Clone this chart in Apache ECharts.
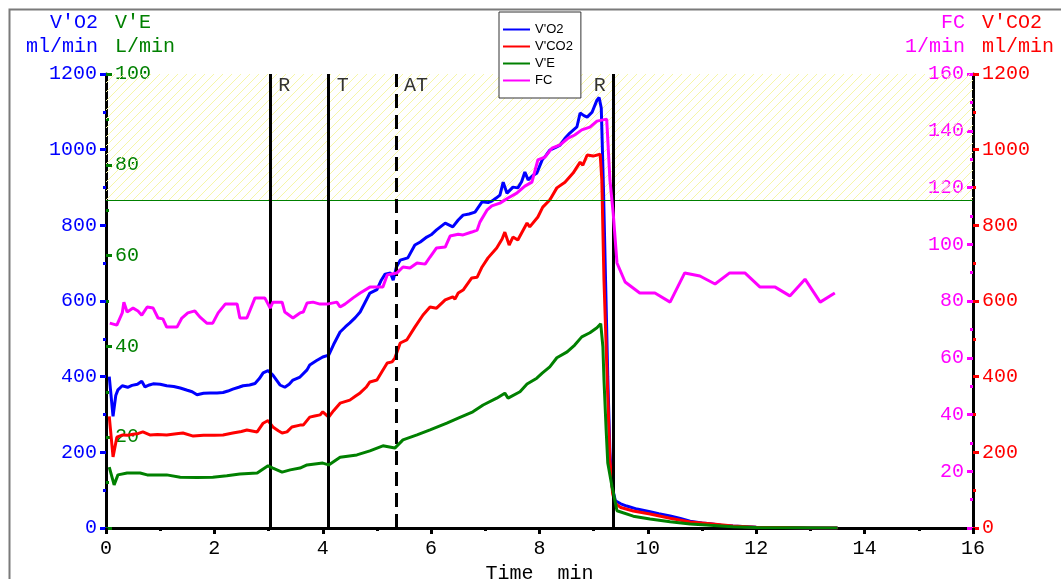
<!DOCTYPE html>
<html>
<head>
<meta charset="utf-8">
<script src="https://cdn.jsdelivr.net/npm/echarts@6/dist/echarts.min.js"></script>
<style>
html,body{margin:0;padding:0;background:#fff;overflow:hidden;}
#chart{width:1061px;height:579px;}
</style>
</head>
<body>
<div id="chart"></div>
<script>
// ---------- data ----------
const vo2T = [0.06,0.13,0.18,0.22,0.3,0.4,0.48,0.58,0.66,0.72,0.8,0.87,1.0,1.12,1.25,1.37,1.5,1.59,1.68,1.8,1.92,2.05,2.16,2.25,2.34,2.45,2.53,2.65,2.75,2.83,2.9,2.99,3.08,3.15,3.21,3.3,3.38,3.45,3.58,3.71,3.76,3.88,4.0,4.11,4.2,4.32,4.42,4.5,4.6,4.69,4.78,4.87,5.0,5.08,5.15,5.25,5.3,5.36,5.43,5.57,5.7,5.8,5.92,6.0,6.1,6.26,6.4,6.5,6.59,6.7,6.81,6.94,7.05,7.12,7.2,7.27,7.33,7.4,7.51,7.6,7.67,7.73,7.79,7.88,7.95,8.05,8.12,8.19,8.3,8.38,8.47,8.56,8.69,8.75,8.82,8.88,8.97,9.06,9.1,9.14,9.18,9.22,9.26,9.3,9.34,9.4,9.5,9.61,9.8,10.04,10.2,10.41,10.6,10.78,11.0,11.15,11.35,11.57,12.0,12.5,13.0,13.5];
const vo2 = [400,295,350,365,376,372,377,380,388,373,378,381,380,376,374,370,364,360,352,356,357,357,358,362,367,372,376,378,382,395,410,416,404,390,378,372,380,391,399,418,431,442,452,457,485,518,532,542,556,571,596,621,630,655,671,674,655,690,708,714,748,756,769,775,788,806,796,814,827,830,835,862,860,864,872,880,914,885,901,899,915,941,920,932,938,973,985,999,1006,1012,1030,1044,1060,1097,1090,1086,1099,1131,1138,1110,900,650,400,200,110,72,64,58,50,43,38,32,25,18,13,11,7,5,2,1,0,0];

const vco2T = [0.06,0.13,0.2,0.31,0.4,0.5,0.6,0.68,0.81,0.95,1.12,1.3,1.42,1.61,1.8,2.0,2.16,2.34,2.5,2.6,2.79,2.9,2.99,3.08,3.18,3.25,3.34,3.43,3.58,3.64,3.76,3.85,3.95,4.0,4.11,4.2,4.32,4.5,4.6,4.69,4.8,4.87,5.0,5.1,5.19,5.28,5.33,5.43,5.55,5.7,5.85,5.98,6.1,6.26,6.4,6.44,6.5,6.59,6.75,6.85,6.94,7.05,7.21,7.31,7.36,7.44,7.51,7.6,7.77,7.82,7.97,8.06,8.19,8.32,8.47,8.62,8.75,8.8,8.88,8.99,9.12,9.15,9.19,9.25,9.3,9.35,9.4,9.5,9.73,10.04,10.41,10.78,11.15,11.57,12.0,12.5,13.0,13.5];
const vco2 = [295,188,240,246,245,248,250,254,246,247,246,249,251,243,245,245,246,251,255,259,254,277,284,267,257,251,254,267,272,272,293,296,299,307,293,310,330,338,348,357,372,386,391,415,436,439,449,489,497,531,563,584,581,603,611,605,621,629,661,663,690,714,740,764,782,748,769,761,806,796,822,848,867,899,914,938,967,959,986,983,988,920,655,391,180,90,65,54,45,37,26,16,11,5,2,1,0,0];

const veT = [0.06,0.15,0.22,0.39,0.63,0.76,1.12,1.37,1.68,1.97,2.23,2.47,2.79,2.9,2.99,3.08,3.25,3.4,3.58,3.71,4.0,4.11,4.32,4.63,4.87,5.11,5.33,5.48,5.74,5.98,6.29,6.5,6.77,6.96,7.21,7.36,7.42,7.64,7.77,7.95,8.05,8.19,8.32,8.51,8.65,8.78,8.93,9.06,9.13,9.17,9.19,9.23,9.26,9.34,9.39,9.43,9.73,10.04,10.41,10.78,11.15,11.57,12.0,13.5];
const ve = [13.4,9.5,11.7,12.1,12.1,11.7,11.7,11.2,11.1,11.2,11.5,11.9,12.1,13.0,13.7,13.2,12.3,12.8,13.2,13.9,14.3,13.9,15.6,16.1,17.0,18.1,17.6,19.4,20.5,21.6,23.1,24.2,25.6,27.1,28.6,29.7,28.6,30.0,31.7,33.0,34.1,35.5,37.5,38.8,40.3,42.1,43.0,44.1,45.0,39.9,32.6,21.6,14.3,9.0,6.2,3.8,2.6,2.0,1.4,0.9,0.6,0.3,0.1,0.0];

const fcT = [0.07,0.2,0.3,0.33,0.39,0.5,0.59,0.66,0.76,0.87,0.96,1.05,1.12,1.31,1.4,1.51,1.64,1.73,1.86,1.97,2.07,2.2,2.42,2.47,2.6,2.75,2.93,3.03,3.08,3.25,3.3,3.45,3.58,3.64,3.71,3.82,3.95,4.08,4.26,4.32,4.41,4.56,4.69,4.87,5.11,5.19,5.37,5.48,5.61,5.74,5.89,5.98,6.1,6.26,6.35,6.5,6.59,6.75,6.85,6.9,7.03,7.12,7.27,7.42,7.58,7.73,7.86,7.97,8.1,8.23,8.38,8.53,8.65,8.78,8.93,9.06,9.24,9.3,9.36,9.43,9.58,9.85,10.13,10.41,10.68,10.96,11.24,11.51,11.79,12.07,12.35,12.62,12.9,13.18,13.45];
const fc = [72.2,71.5,75.8,79.6,76.1,77.5,76.5,75.0,77.9,77.5,74.0,73.7,70.8,70.8,74.0,75.8,76.5,74.4,72.2,72.2,75.8,78.9,78.9,74.0,74.0,81.1,81.1,77.5,79.6,79.6,76.1,74.0,75.8,76.1,79.3,79.6,78.9,78.9,79.6,77.9,78.9,81.1,82.8,84.9,84.9,89.2,89.9,92.0,91.6,93.4,93.0,95.5,98.7,99.0,102.9,103.5,103.3,104.3,105.0,107.8,112.0,113.5,114.5,116.3,118.0,120.5,121.9,129.7,130.7,133.9,135.0,137.4,138.5,140.3,141.3,143.4,144.1,122.6,111.0,93.4,86.7,82.8,82.8,79.6,89.9,88.8,86.0,89.9,89.9,84.9,84.9,81.8,87.7,79.6,82.8];

const eventTimes = [3.03, 4.11, 5.35, 9.37];
const eventLabels = ['R', 'T', 'AT', 'R'];
const refLevelVO2 = 867;   // horizontal reference line / hatched zone lower bound
const seriesNames = ["V'O2", "V'CO2", "V'E", "FC"];
const xTicks = [0,2,4,6,8,10,12,14,16];

// ---------- helpers ----------
const zip = (a, b) => a.map((t, i) => [t, b[i]]);
const MONO = "'Liberation Mono', 'DejaVu Sans Mono', monospace";
const BLUE = '#0000ff', RED = '#ff0000', GREEN = '#008000', PINK = '#ff00ff';

// hatch pattern
const pc = document.createElement('canvas');
pc.width = 9; pc.height = 9;
const g = pc.getContext('2d');
g.strokeStyle = '#f6f6a8';
g.lineWidth = 1;
g.beginPath();
g.moveTo(-1, 10); g.lineTo(10, -1);
g.moveTo(-1, 1); g.lineTo(1, -1);
g.moveTo(8, 10); g.lineTo(10, 8);
g.stroke();

const chart = echarts.init(document.getElementById('chart'), null, {renderer: 'canvas', width: 1061, height: 579});

function yAxisBase(color, min, max, interval, pos, inside, nameText, nameAlign, namePad, hideZero) {
  return {
    type: 'value', min: min, max: max, interval: interval, position: pos,
    name: nameText, nameLocation: 'end', nameGap: 15,
    nameTextStyle: {color: color, fontFamily: MONO, fontSize: 20, lineHeight: 24,
      align: nameAlign, verticalAlign: 'bottom', padding: namePad},
    axisLine: {show: false},
    axisTick: {show: true, inside: inside, length: 6, lineStyle: {color: color, width: 3}},
    minorTick: {show: true, splitNumber: 2, length: 3, lineStyle: {color: color, width: 3}},
    axisLabel: {show: true, inside: inside, margin: 9, color: color, fontFamily: MONO, fontSize: 20,
      formatter: v => (hideZero && v === 0) ? '' : String(v)},
    splitLine: {show: false}, minorSplitLine: {show: false}
  };
}

const yBlue = yAxisBase(BLUE, 0, 1200, 200, 'left', false, "V'O2\nml/min", 'right', [0, 8, 0, 0], false);
yBlue.axisLine = {show: true, lineStyle: {color: '#000', width: 3}};
const yGreen = yAxisBase(GREEN, 0, 100, 20, 'left', true, "V'E\nL/min", 'left', [0, 0, 0, 9], true);
const yPink = yAxisBase(PINK, 0, 160, 20, 'right', true, "FC\n1/min", 'right', [0, 8, 0, 0], true);
yPink.axisLine = {show: true, lineStyle: {color: '#000', width: 3}};
const yRed = yAxisBase(RED, 0, 1200, 200, 'right', false, "V'CO2\nml/min", 'left', [0, 0, 0, 9], false);

const lineSeries = (name, data, color, yIdx, z) => ({
  name: name, type: 'line', data: data, yAxisIndex: yIdx, showSymbol: false, symbol: 'none',
  lineStyle: {color: color, width: 3}, itemStyle: {color: color}, z: z, animation: false
});

const option = {
  animation: false,
  backgroundColor: '#fff',
  grid: {left: 106, width: 867, top: 74, height: 454, containLabel: false, outerBoundsMode: 'none'},
  legend: {
    data: seriesNames, orient: 'vertical', left: 499, top: 12,
    padding: [10, 8, 10, 4], itemGap: 2, itemWidth: 27, itemHeight: 2, icon: 'rect',
    backgroundColor: '#fff', borderColor: '#333', borderWidth: 1,
    textStyle: {fontFamily: "'Liberation Sans', Arial, sans-serif", fontSize: 13, color: '#000', lineHeight: 15}
  },
  xAxis: {
    type: 'value', min: 0, max: 16, interval: 2,
    name: 'Time  min', nameLocation: 'middle', nameGap: 31,
    nameTextStyle: {color: '#000', fontFamily: MONO, fontSize: 20},
    axisLine: {show: true, onZero: false, lineStyle: {color: '#000', width: 3}},
    axisTick: {show: true, length: 6, lineStyle: {color: '#000', width: 3}},
    minorTick: {show: true, splitNumber: 2, length: 3, lineStyle: {color: '#000', width: 3}},
    axisLabel: {color: '#000', fontFamily: MONO, fontSize: 20, margin: 11,
      customValues: xTicks},
    splitLine: {show: false}
  },
  yAxis: [yBlue, yGreen, yPink, yRed],
  graphic: [{
    type: 'rect', left: 7, top: 7, silent: true, z: 100,
    shape: {width: 1100, height: 620},
    style: {fill: null, stroke: '#7a7a7a', lineWidth: 2}
  }],
  series: [
    {
      name: 'zone', type: 'line', data: [], yAxisIndex: 0, z: 1, silent: true,
      markArea: {
        silent: true,
        itemStyle: {color: {image: pc, repeat: 'repeat'}},
        data: [[{yAxis: refLevelVO2}, {yAxis: 1200}]]
      },
      markLine: {
        silent: true, symbol: ['none', 'none'], label: {show: false},
        lineStyle: {color: GREEN, width: 1, type: 'solid', opacity: 1},
        data: [{yAxis: refLevelVO2}]
      }
    },
    lineSeries(seriesNames[0], zip(vo2T, vo2), BLUE, 0, 3),
    lineSeries(seriesNames[1], zip(vco2T, vco2), RED, 3, 4),
    lineSeries(seriesNames[2], zip(veT, ve), GREEN, 1, 5),
    lineSeries(seriesNames[3], zip(fcT, fc), PINK, 2, 6),
    {
      name: 'events', type: 'scatter', yAxisIndex: 0, z: 10, symbolSize: 0, silent: true,
      data: eventTimes.map((t, i) => ({
        value: [t, 1200, eventLabels[i]],
        label: {
          show: true, formatter: eventLabels[i],
          position: i === eventTimes.length - 1 ? 'left' : 'right',
          offset: i === eventTimes.length - 1 ? [-3, 12] : [3, 12],
          color: '#000', fontFamily: MONO, fontSize: 20
        }
      })),
      markLine: {
        silent: true, symbol: ['none', 'none'], label: {show: false},
        data: eventTimes.map((t, i) => ({
          xAxis: t,
          lineStyle: {color: '#000', width: 3, type: eventLabels[i] === 'AT' ? [14, 7] : 'solid'}
        }))
      }
    }
  ]
};
chart.setOption(option);
</script>
</body>
</html>
